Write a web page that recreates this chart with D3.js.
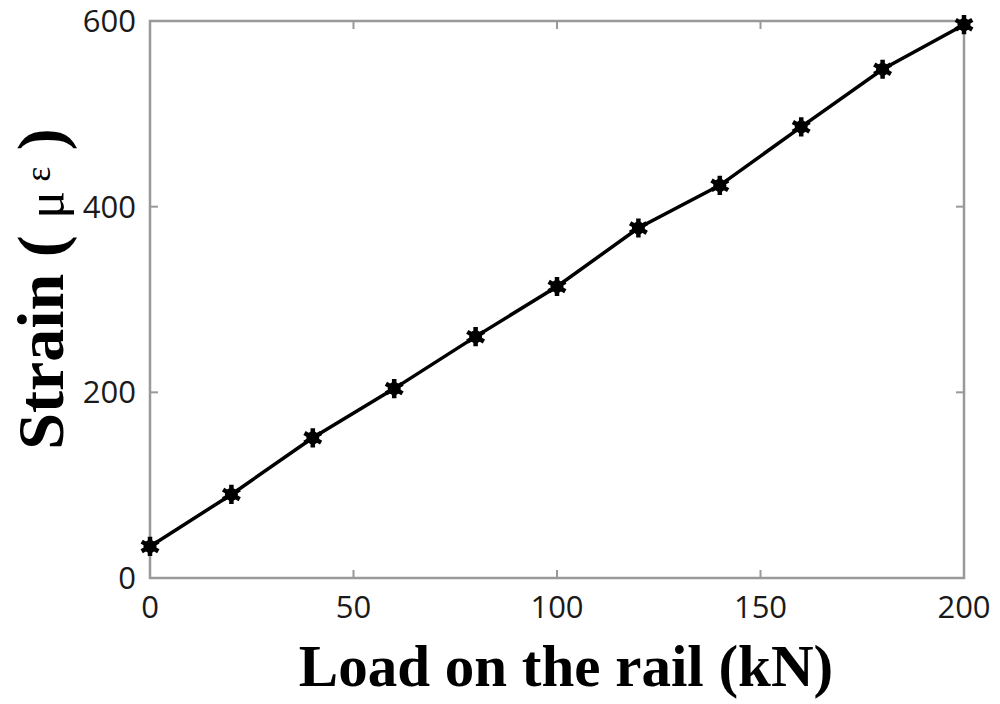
<!DOCTYPE html>
<html>
<head>
<meta charset="utf-8">
<script src="https://cdn.jsdelivr.net/npm/d3@7"></script>
<style>
  body { margin: 0; background: #fff; }
</style>
</head>
<body>
<svg width="1000" height="704"></svg>
<script>
// data
const loads = [0, 20, 40, 60, 80, 100, 120, 140, 160, 180, 200]
const strains = [34, 90, 151, 204, 260, 314, 377, 423, 486, 548, 596]
const xTicks = [0, 50, 100, 150, 200]
const yTicks = [0, 200, 400, 600]

const margin = {top: 21, right: 36, bottom: 126, left: 150},
    width = 1000 - margin.left - margin.right,
    height = 704 - margin.top - margin.bottom

const axisColor = "#999"
const tickLen = 8

const x = d3.scaleLinear().domain([0, 200]).range([0, width])
const y = d3.scaleLinear().domain([0, 600]).range([height, 0])

const svg = d3.select("svg")
    .append("g")
    .attr("transform", `translate(${margin.left},${margin.top})`)

// box
svg.append("rect")
    .attr("width", width)
    .attr("height", height)
    .attr("fill", "none")
    .attr("stroke", axisColor)
    .attr("stroke-width", 2.5)

// inward ticks on all four sides
xTicks.forEach(t => {
    svg.append("line")
        .attr("x1", x(t)).attr("x2", x(t))
        .attr("y1", height).attr("y2", height - tickLen)
        .attr("stroke", axisColor).attr("stroke-width", 2)
    svg.append("line")
        .attr("x1", x(t)).attr("x2", x(t))
        .attr("y1", 0).attr("y2", tickLen)
        .attr("stroke", axisColor).attr("stroke-width", 2)
})
yTicks.forEach(t => {
    svg.append("line")
        .attr("x1", 0).attr("x2", tickLen)
        .attr("y1", y(t)).attr("y2", y(t))
        .attr("stroke", axisColor).attr("stroke-width", 2)
    svg.append("line")
        .attr("x1", width).attr("x2", width - tickLen)
        .attr("y1", y(t)).attr("y2", y(t))
        .attr("stroke", axisColor).attr("stroke-width", 2)
})

// tick labels
svg.selectAll(".xlab")
    .data(xTicks)
    .enter().append("text")
    .attr("class", "xlab")
    .attr("x", d => x(d))
    .attr("y", height + 40)
    .attr("text-anchor", "middle")
    .attr("font-family", "'Open Sans', 'DejaVu Sans', sans-serif")
    .attr("font-size", 31)
    .attr("fill", "#1a1a1a")
    .text(d => d)

svg.selectAll(".ylab")
    .data(yTicks)
    .enter().append("text")
    .attr("class", "ylab")
    .attr("x", -14)
    .attr("y", d => y(d) + 11)
    .attr("text-anchor", "end")
    .attr("font-family", "'Open Sans', 'DejaVu Sans', sans-serif")
    .attr("font-size", 31)
    .attr("fill", "#1a1a1a")
    .text(d => d)

// data line
const line = d3.line()
    .x((d, i) => x(loads[i]))
    .y(d => y(d))

svg.append("path")
    .datum(strains)
    .attr("d", line)
    .attr("fill", "none")
    .attr("stroke", "#000")
    .attr("stroke-width", 3.5)

// asterisk markers
const star = d3.symbol().type(d3.symbolAsterisk).size(260)
svg.selectAll(".pt")
    .data(strains)
    .enter().append("path")
    .attr("class", "pt")
    .attr("transform", (d, i) => `translate(${x(loads[i])},${y(d)})`)
    .attr("d", star)
    .attr("fill", "none")
    .attr("stroke", "#000")
    .attr("stroke-width", 4.5)
svg.selectAll(".dot")
    .data(strains)
    .enter().append("circle")
    .attr("cx", (d, i) => x(loads[i]))
    .attr("cy", d => y(d))
    .attr("r", 6.5)
    .attr("fill", "#000")

// axis titles
d3.select("svg").append("text")
    .attr("x", 566)
    .attr("y", 686)
    .attr("text-anchor", "middle")
    .attr("font-family", "'Liberation Serif', 'Times New Roman', serif")
    .attr("font-weight", "bold")
    .attr("font-size", 59)
    .attr("fill", "#000")
    .text("Load on the rail (kN)")

const yTitle = d3.select("svg").append("text")
    .attr("transform", "translate(63,289) rotate(-90)")
    .attr("text-anchor", "middle")
    .attr("font-family", "'Liberation Serif', 'Times New Roman', serif")
    .attr("font-weight", "bold")
    .attr("font-size", 66)
    .attr("fill", "#000")
yTitle.append("tspan").text("Strain ( ")
yTitle.append("tspan").attr("font-size", 52).attr("font-weight", "normal").text("μ")
yTitle.append("tspan").attr("font-size", 36).attr("font-weight", "normal").attr("dy", -13).text(" ε")
yTitle.append("tspan").attr("dy", 13).text(" )")
</script>
</body>
</html>
